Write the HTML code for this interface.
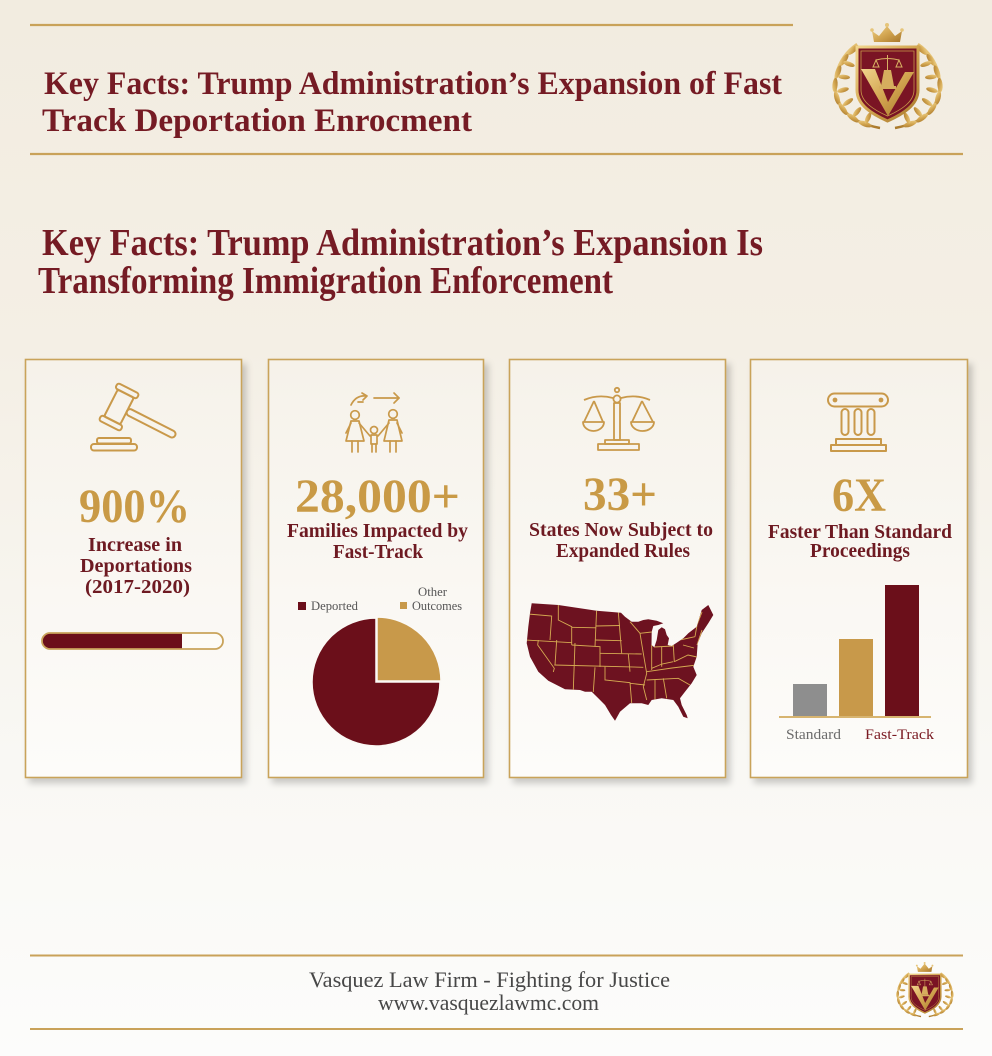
<!DOCTYPE html>
<html><head><meta charset="utf-8"><style>
html,body{margin:0;padding:0;background:#f6f2ea;}
svg{display:block;}
text{font-family:"Liberation Serif",serif;}
</style></head><body>
<svg width="992" height="1056" viewBox="0 0 992 1056" xmlns="http://www.w3.org/2000/svg">
<defs>
  <linearGradient id="bg" x1="0" y1="0" x2="0" y2="1">
    <stop offset="0" stop-color="#f2ece0"/>
    <stop offset="0.33" stop-color="#f4efe5"/>
    <stop offset="0.72" stop-color="#f9f8f4"/>
    <stop offset="1" stop-color="#fcfcfb"/>
  </linearGradient>
  <linearGradient id="card" x1="0" y1="0" x2="0" y2="1">
    <stop offset="0" stop-color="#f6f2ea"/>
    <stop offset="1" stop-color="#fdfcfa"/>
  </linearGradient>
  <linearGradient id="gold" x1="0" y1="0" x2="1" y2="1">
    <stop offset="0" stop-color="#f0d48c"/>
    <stop offset="0.5" stop-color="#d2a550"/>
    <stop offset="1" stop-color="#a8772a"/>
  </linearGradient>
  <filter id="sh" x="-10%" y="-10%" width="130%" height="130%">
    <feDropShadow dx="4" dy="5" stdDeviation="3.5" flood-color="#000" flood-opacity="0.2"/>
  </filter>
  <clipPath id="barclip"><rect x="42" y="633" width="181" height="16" rx="8"/></clipPath>
  <clipPath id="usclip"><path id="usp" d="M531.7,603.3 L558.3,605 L596.7,610.7 L621,612.7 L625,616.7 L631.7,621.7 L638.3,621.7 L643.3,620 L648.3,619.3 L656.7,620.7 L663.3,623.3 L658.3,625 L653.3,626 L651.7,631.7 L651.5,645 L654.3,647.3 L656.7,640 L658.3,630 L661.7,627.3 L665,629.3 L666.7,635 L669,638.3 L667.7,645 L671.7,646 L676.7,642.7 L683.3,638.3 L688.3,633.3 L696.7,626.7 L701.7,610 L708.3,605 L713.3,615 L708.3,623.3 L701.7,633.3 L697.7,643.3 L696.7,656.7 L693.3,666.7 L696.7,675 L691.7,683.3 L685,691.7 L680,698.3 L681.7,705 L686.7,715 L687.7,718.3 L683.3,716.7 L678.3,706.7 L673.3,700 L661.7,698.3 L651.7,700 L648.3,705 L641.7,703.3 L630,703.3 L620,711.7 L615,720.7 L611,715 L605,705 L598.3,698.3 L591.7,691.7 L585,691.7 L580,690 L565,689.3 L548.3,680.7 L538.3,671.7 L530,656.7 L526.7,643.3 L528.3,626.7 L530,613.3 Z"/></clipPath>

  <g id="logo">
    <g id="laurelL" fill="url(#gold)" stroke="none">
      <path d="M857,44 C836,58 828,86 843,109 C851,119 864,125 880,128" fill="none" stroke="url(#gold)" stroke-width="2.5"/>
      <ellipse cx="853" cy="50" rx="7" ry="2.6" transform="rotate(-40 853 50)"/>
      <ellipse cx="844" cy="60" rx="7" ry="2.6" transform="rotate(-55 844 60)"/>
      <ellipse cx="838" cy="72" rx="7" ry="2.6" transform="rotate(-70 838 72)"/>
      <ellipse cx="835" cy="85" rx="7" ry="2.6" transform="rotate(-85 835 85)"/>
      <ellipse cx="837" cy="98" rx="7" ry="2.6" transform="rotate(75 837 98)"/>
      <ellipse cx="843" cy="109" rx="7" ry="2.6" transform="rotate(55 843 109)"/>
      <ellipse cx="853" cy="118" rx="7" ry="2.6" transform="rotate(35 853 118)"/>
      <ellipse cx="865" cy="124" rx="7" ry="2.6" transform="rotate(20 865 124)"/>
      <ellipse cx="849" cy="64" rx="6" ry="2.3" transform="rotate(20 849 64)"/>
      <ellipse cx="844" cy="77" rx="6" ry="2.3" transform="rotate(5 844 77)"/>
      <ellipse cx="843" cy="90" rx="6" ry="2.3" transform="rotate(-15 843 90)"/>
      <ellipse cx="848" cy="102" rx="6" ry="2.3" transform="rotate(-35 848 102)"/>
      <ellipse cx="857" cy="112" rx="6" ry="2.3" transform="rotate(-50 857 112)"/>
      <ellipse cx="868" cy="118" rx="6" ry="2.3" transform="rotate(-65 868 118)"/>
    </g>
    <use href="#laurelL" transform="translate(1775,0) scale(-1,1)"/>
    <path d="M874,42 L872,31 L879,36 L887,26 L895,36 L902,31 L900,42 Z" fill="url(#gold)"/>
    <circle cx="887" cy="25" r="2" fill="#e6c57a"/>
    <circle cx="872" cy="30" r="1.8" fill="#e6c57a"/>
    <circle cx="902" cy="30" r="1.8" fill="#e6c57a"/>
    <path d="M857,47 L918,47 L918,90 C918,105 903,114 887.5,121 C872,114 857,105 857,90 Z" fill="#7a1424" stroke="url(#gold)" stroke-width="3"/>
    <path d="M861,51 L914,51 L914,90 C914,102 901,110 887.5,116 C874,110 861,102 861,90 Z" fill="none" stroke="#c8994a" stroke-width="0.8"/>
    <polygon points="861,69 875,69 888,102 905,72 914,72 888,116" fill="url(#gold)"/>
    <g stroke="#d8b062" stroke-width="1" fill="none">
      <line x1="887.5" y1="55" x2="887.5" y2="82"/>
      <path d="M876,60 Q887,57 899,60"/>
      <path d="M873,67 L876,60 L879,67 Z M896,67 L899,60 L902,67 Z"/>
    </g>
    <path d="M881,86 L884,70 L891,70 L894,86 Z" fill="#d6ad5e"/>
    <rect x="879" y="86" width="17" height="3" fill="#d6ad5e"/>
  </g>
</defs>

<rect width="992" height="1056" fill="url(#bg)"/>

<!-- header -->
<line x1="30" y1="25" x2="793" y2="25" stroke="#c9a259" stroke-width="2.2"/>
<line x1="30" y1="154" x2="963" y2="154" stroke="#c9a259" stroke-width="2.2"/>
<g fill="#751b24" font-weight="bold">
  <text x="44" y="94" font-size="33" textLength="738" lengthAdjust="spacingAndGlyphs">Key Facts: Trump Administration’s Expansion of Fast</text>
  <text x="42" y="131" font-size="33" textLength="430" lengthAdjust="spacingAndGlyphs">Track Deportation Enrocment</text>
  <text x="42" y="255" font-size="38" textLength="721" lengthAdjust="spacingAndGlyphs">Key Facts: Trump Administration’s Expansion  Is</text>
  <text x="38" y="293" font-size="38" textLength="575" lengthAdjust="spacingAndGlyphs">Transforming Immigration Enforcement</text>
</g>
<use href="#logo"/>

<!-- cards -->
<g filter="url(#sh)">
  <rect x="25.5" y="359.5" width="216" height="418" fill="url(#card)" stroke="#c9a35a" stroke-width="1.6"/>
  <rect x="268.5" y="359.5" width="215" height="418" fill="url(#card)" stroke="#c9a35a" stroke-width="1.6"/>
  <rect x="509.5" y="359.5" width="216" height="418" fill="url(#card)" stroke="#c9a35a" stroke-width="1.6"/>
  <rect x="750.5" y="359.5" width="217" height="418" fill="url(#card)" stroke="#c9a35a" stroke-width="1.6"/>
</g>

<!-- card 1: gavel -->
<g fill="none" stroke="#c9994a" stroke-width="2" stroke-linejoin="round">
  <g transform="translate(119,407) rotate(27)">
    <rect x="-9" y="-15" width="18" height="30" rx="2"/>
    <rect x="-12" y="-21" width="24" height="6" rx="2.5"/>
    <rect x="-12" y="15" width="24" height="6" rx="2.5"/>
    <rect x="9" y="-3.5" width="54" height="7" rx="3.5"/>
  </g>
  <rect x="97" y="438" width="34" height="5.5" rx="2"/>
  <rect x="91" y="444" width="46" height="6.5" rx="3"/>
</g>
<g text-anchor="start" font-weight="bold">
  <text x="79" y="522" font-size="48" fill="#c99a46" textLength="111" lengthAdjust="spacingAndGlyphs">900%</text>
  <text x="88" y="551" font-size="20" fill="#6e1a22" textLength="94" lengthAdjust="spacingAndGlyphs">Increase in</text>
  <text x="80" y="572" font-size="20" fill="#6e1a22" textLength="112" lengthAdjust="spacingAndGlyphs">Deportations</text>
  <text x="85" y="593" font-size="20" fill="#6e1a22" textLength="105" lengthAdjust="spacingAndGlyphs">(2017-2020)</text>
</g>
<rect x="42" y="633" width="181" height="16" rx="8" fill="#fdfbf6"/>
<rect x="42" y="633" width="140" height="16" fill="#6b0f1a" clip-path="url(#barclip)"/>
<rect x="42" y="633" width="181" height="16" rx="8" fill="none" stroke="#c9a35a" stroke-width="1.8"/>

<!-- card 2: family -->
<g fill="none" stroke="#c9994a" stroke-width="1.7" stroke-linecap="round" stroke-linejoin="round">
  <path d="M351,405 Q356,395 366,396"/>
  <path d="M362,393 L367,396 L363,400"/>
  <line x1="358" y1="402" x2="363" y2="402"/>
  <line x1="374" y1="398" x2="399" y2="398"/>
  <path d="M394,393 L399,398 L394,403"/>
  <circle cx="355" cy="415" r="4.3"/>
  <path d="M351,421 L359,421 L364,441 L346,441 Z"/>
  <path d="M352,441 L352,452 M358,441 L358,452"/>
  <path d="M359,423 L370,436"/>
  <circle cx="374" cy="430" r="3.5"/>
  <path d="M371,435 L377,435 L377,444 L371,444 Z"/>
  <path d="M372,444 L372,452 M376,444 L376,452"/>
  <circle cx="393" cy="414" r="4.3"/>
  <path d="M389,420 L397,420 L402,441 L384,441 Z"/>
  <path d="M390,441 L390,452 M396,441 L396,452"/>
  <path d="M389,423 L378,436"/>
  <path d="M351,423 L346,433 M397,423 L402,433"/>
</g>
<g font-weight="bold">
  <text x="295" y="512" font-size="48" fill="#c99a46" textLength="165" lengthAdjust="spacingAndGlyphs">28,000+</text>
  <text x="287" y="537" font-size="20" fill="#6e1a22" textLength="181" lengthAdjust="spacingAndGlyphs">Families Impacted by</text>
  <text x="333" y="558" font-size="20" fill="#6e1a22" textLength="90" lengthAdjust="spacingAndGlyphs">Fast-Track</text>
</g>
<rect x="298" y="602" width="8" height="8" fill="#6b0f1a"/>
<rect x="400" y="602" width="7" height="7" fill="#c8994a"/>
<g font-size="13" fill="#555">
  <text x="311" y="610" textLength="47" lengthAdjust="spacingAndGlyphs">Deported</text>
  <text x="418" y="596" textLength="29" lengthAdjust="spacingAndGlyphs">Other</text>
  <text x="412" y="610" textLength="50" lengthAdjust="spacingAndGlyphs">Outcomes</text>
</g>
<path d="M376,682 L376,618 A64,64 0 1,0 440,682 Z" fill="#6b0f1a" stroke="#fbf9f5" stroke-width="1.5"/>
<path d="M377,681 L377,617 A64,64 0 0,1 441,681 Z" fill="#c8994a" stroke="#fbf9f5" stroke-width="1.5"/>

<!-- card 3: scales -->
<g fill="none" stroke="#c9994a" stroke-width="1.8" stroke-linejoin="round">
  <circle cx="617" cy="390" r="2.2"/>
  <path d="M584,400 Q598,394 613,398"/>
  <path d="M621,398 Q636,394 650,400"/>
  <circle cx="617" cy="399" r="3.6"/>
  <rect x="614" y="403" width="6" height="37"/>
  <path d="M594,401 L584,422 M594,401 L603,422"/>
  <path d="M642,401 L632,422 M642,401 L653,422"/>
  <path d="M583,422 L604,422 A10.5,9 0 0,1 583,422 Z"/>
  <path d="M631,422 L654,422 A11.5,9 0 0,1 631,422 Z"/>
  <rect x="605" y="440" width="24" height="4"/>
  <rect x="598" y="444" width="41" height="6"/>
</g>
<g font-weight="bold">
  <text x="583" y="510" font-size="48" fill="#c99a46" textLength="74" lengthAdjust="spacingAndGlyphs">33+</text>
  <text x="529" y="536" font-size="20" fill="#6e1a22" textLength="184" lengthAdjust="spacingAndGlyphs">States Now Subject to</text>
  <text x="556" y="557" font-size="20" fill="#6e1a22" textLength="134" lengthAdjust="spacingAndGlyphs">Expanded Rules</text>
</g>
<use href="#usp" fill="#6d1220"/>
<g clip-path="url(#usclip)" fill="none" stroke="#d6ab52" stroke-width="0.9">
  <path d="M528,614 L551.7,616 L550,640"/>
  <path d="M526,640 L572,642.7"/>
  <path d="M538.3,640 L537.7,645 L554.3,668.3 L553.3,672"/>
  <path d="M556.7,640 L555,665"/>
  <path d="M575,643 L573.3,690"/>
  <path d="M554.3,665 L643.3,667.3"/>
  <path d="M558.3,603 L558.3,620 L571.7,626.7 L571.7,645"/>
  <path d="M571.7,627.3 L596,627.8"/>
  <path d="M596,626 L620,625.5"/>
  <path d="M571.7,645 L600,646.7 L600,667"/>
  <path d="M596.7,608 L595,646.7"/>
  <path d="M595,640 L621.7,640.7"/>
  <path d="M600,653.3 L641.7,654"/>
  <path d="M618.3,612 L621.7,653.3"/>
  <path d="M628.3,654 L630,671.7"/>
  <path d="M605,666.7 L605,680 L630,682.7 L631.7,703"/>
  <path d="M595,667.3 L593.3,692"/>
  <path d="M630,621.7 L640,633.3 L643.3,653.3 L646.7,673.3 L643.3,686.7 L646.7,700"/>
  <path d="M630,683.3 L645,685"/>
  <path d="M646.7,671.7 L672,668 L696.7,665"/>
  <path d="M646.7,680 L678.3,678.3 L690,685"/>
  <path d="M655,680 L655,700"/>
  <path d="M663.3,678.3 L666.7,698.3"/>
  <path d="M651.7,645 L651.7,670"/>
  <path d="M661.7,646.7 L661.7,666.7"/>
  <path d="M673.3,645 L674.3,661.7"/>
  <path d="M651.7,668.3 L662,664 L673.3,661.7"/>
  <path d="M674.3,661.7 L688,655 L697,657"/>
  <path d="M675,641 L695,636.7"/>
  <path d="M654,647 L673.3,646"/>
  <path d="M695,636.7 L697,625 L702,612"/>
  <path d="M697,645 L702,630"/>
  <path d="M683,645 L694,648"/>
  <path d="M640,633.3 L651.7,632"/>
</g>

<!-- card 4: column -->
<g fill="none" stroke="#c9994a" stroke-width="2" stroke-linejoin="round">
  <rect x="828" y="393.5" width="60" height="13" rx="6.5"/>
  <rect x="841.5" y="409" width="7" height="26" rx="3.5"/>
  <rect x="854.5" y="409" width="7" height="26" rx="3.5"/>
  <rect x="867.5" y="409" width="7" height="26" rx="3.5"/>
  <rect x="836" y="439" width="45" height="6"/>
  <rect x="831" y="445" width="55" height="6"/>
</g>
<circle cx="835" cy="400" r="2.4" fill="#c9994a"/>
<circle cx="881" cy="400" r="2.4" fill="#c9994a"/>
<g font-weight="bold">
  <text x="832" y="511" font-size="48" fill="#c99a46" textLength="54" lengthAdjust="spacingAndGlyphs">6X</text>
  <text x="768" y="538" font-size="20" fill="#6e1a22" textLength="184" lengthAdjust="spacingAndGlyphs">Faster Than Standard</text>
  <text x="810" y="557" font-size="20" fill="#6e1a22" textLength="100" lengthAdjust="spacingAndGlyphs">Proceedings</text>
</g>
<rect x="793" y="684" width="34" height="32" fill="#8e8e8e"/>
<rect x="839" y="639" width="34" height="77" fill="#c8994a"/>
<rect x="885" y="585" width="34" height="131" fill="#6b0f1a"/>
<line x1="779" y1="717" x2="931" y2="717" stroke="#d2aa5c" stroke-width="1.8"/>
<text x="786" y="739" font-size="15" fill="#6b6b6b" textLength="55" lengthAdjust="spacingAndGlyphs">Standard</text>
<text x="865" y="739" font-size="15" fill="#7a1a22" textLength="69" lengthAdjust="spacingAndGlyphs">Fast-Track</text>

<!-- footer -->
<line x1="30" y1="955.5" x2="963" y2="955.5" stroke="#c9a259" stroke-width="2"/>
<line x1="30" y1="1029" x2="963" y2="1029" stroke="#c9a259" stroke-width="2"/>
<text x="309" y="987" font-size="22" fill="#474747" textLength="361" lengthAdjust="spacingAndGlyphs">Vasquez Law Firm - Fighting for Justice</text>
<text x="378" y="1010" font-size="22" fill="#474747" textLength="221" lengthAdjust="spacingAndGlyphs">www.vasquezlawmc.com</text>
<use href="#logo" transform="translate(463.4,950) scale(0.52)"/>
</svg>
</body></html>
